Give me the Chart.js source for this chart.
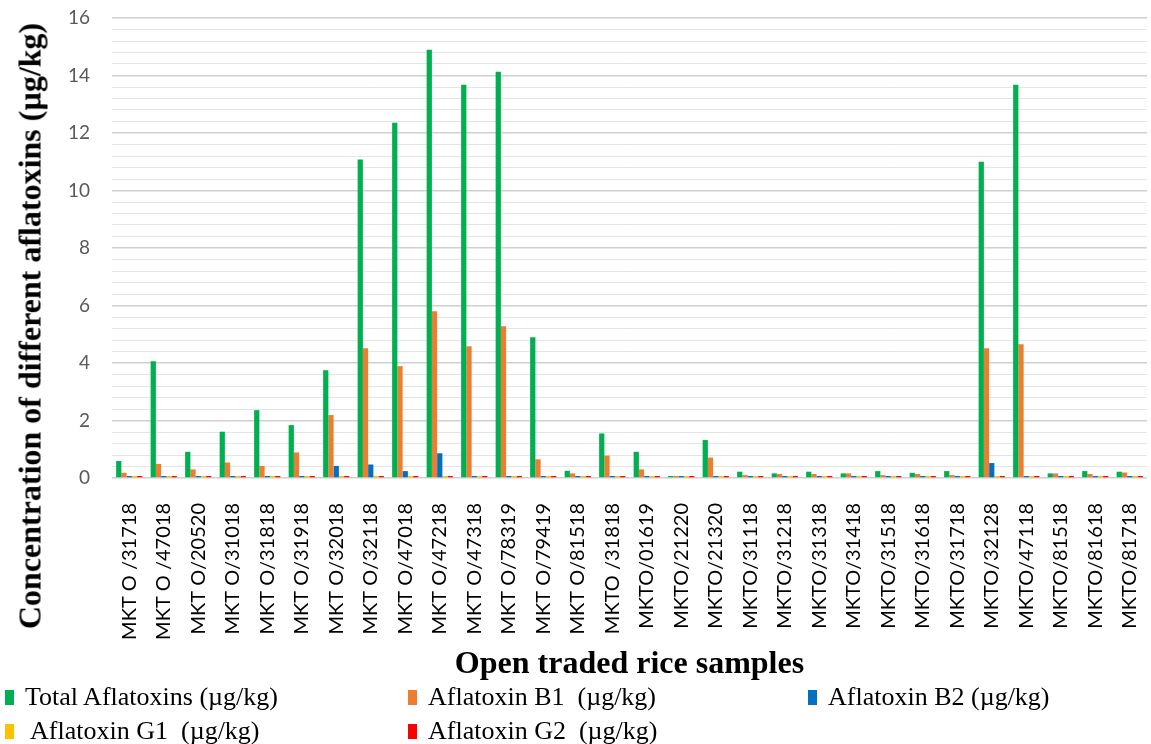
<!DOCTYPE html>
<html>
<head>
<meta charset="utf-8">
<script src="https://cdn.jsdelivr.net/npm/chart.js@4.4.1/dist/chart.umd.min.js"></script>
<style>
  html, body { margin: 0; padding: 0; background: #ffffff; }
  #wrap { position: relative; width: 1151px; height: 744px; overflow: hidden; }
  #c { position: absolute; left: 0; top: 0; }
  #ytitle {
    position: absolute; left: 30px; top: 326px;
    transform: translate(-50%, -50%) rotate(-90deg);
    font: bold 32px "Liberation Serif", "Times New Roman", serif;
    white-space: nowrap; color: #000;
  }
  .leg { position: absolute; display: flex; align-items: center; white-space: pre;
         font: 26px "Liberation Serif", "Times New Roman", serif; color: #000; height: 30px; }
  .leg i { display: inline-block; width: 9px; height: 15px; margin-right: 11px; }
</style>
</head>
<body>
<div id="wrap">
  <canvas id="c" width="1151" height="744"></canvas>
  <div id="ytitle">Concentration of different aflatoxins (µg/kg)</div>
</div>
<script>
const categories = [
  "MKT O /31718","MKT O /47018","MKT O/20520","MKT O/31018","MKT O/31818","MKT O/31918",
  "MKT O/32018","MKT O/32118","MKT O/47018","MKT O/47218","MKT O/47318","MKT O/78319",
  "MKT O/79419","MKT O/81518","MKTO /31818","MKTO/01619","MKTO/21220","MKTO/21320",
  "MKTO/31118","MKTO/31218","MKTO/31318","MKTO/31418","MKTO/31518","MKTO/31618",
  "MKTO/31718","MKTO/32128","MKTO/47118","MKTO/81518","MKTO/81618","MKTO/81718"
];
const totalAflatoxins = [0.59,4.06,0.91,1.61,2.36,1.84,3.75,11.08,12.36,14.9,13.68,14.13,
  4.9,0.25,1.55,0.91,0.07,1.32,0.22,0.16,0.22,0.16,0.24,0.18,0.24,11.0,13.68,0.16,0.24,0.22];
const aflatoxinB1 = [0.18,0.49,0.30,0.54,0.42,0.89,2.19,4.51,3.89,5.8,4.58,5.28,
  0.65,0.16,0.78,0.30,0.07,0.71,0.10,0.14,0.14,0.16,0.10,0.14,0.10,4.51,4.65,0.16,0.14,0.19];
const aflatoxinB2 = [0.07,0.07,0.07,0.07,0.07,0.07,0.42,0.47,0.24,0.86,0.07,0.07,
  0.07,0.07,0.07,0.07,0.07,0.07,0.07,0.07,0.07,0.07,0.07,0.07,0.07,0.52,0.07,0.07,0.07,0.07];
const aflatoxinG1 = [0.07,0.07,0.07,0.07,0.07,0.07,0.07,0.07,0.07,0.07,0.07,0.07,
  0.07,0.07,0.07,0.07,0.07,0.07,0.07,0.07,0.07,0.07,0.07,0.07,0.07,0.07,0.07,0.07,0.07,0.07];
const aflatoxinG2 = [0.07,0.07,0.07,0.07,0.07,0.07,0.07,0.07,0.07,0.07,0.07,0.07,
  0.07,0.07,0.07,0.07,0.07,0.07,0.07,0.07,0.07,0.07,0.07,0.07,0.07,0.07,0.07,0.07,0.07,0.07];
const seriesLabels = ["Total Aflatoxins (µg/kg)","Aflatoxin B1  (µg/kg)","Aflatoxin B2 (µg/kg)",
  " Aflatoxin G1  (µg/kg)","Aflatoxin G2  (µg/kg)"];
const seriesColors = ["#00B050","#ED7D31","#0070C0","#FFC000","#FF0000"];
const yTickLabels = [0,2,4,6,8,10,12,14,16];
const xTitle = "Open traded rice samples";

const seriesValues = [totalAflatoxins, aflatoxinB1, aflatoxinB2, aflatoxinG1, aflatoxinG2];

const isMajor = v => yTickLabels.some(t => Math.abs(t - v) < 1e-6);

const chart = new Chart(document.getElementById('c'), {
  type: 'bar',
  data: {
    labels: categories,
    datasets: seriesValues.map((vals, i) => ({
      label: seriesLabels[i],
      data: vals,
      backgroundColor: seriesColors[i],
      borderWidth: 0,
      categoryPercentage: 0.76,
      barPercentage: 1.0
    }))
  },
  options: {
    responsive: false,
    devicePixelRatio: 1,
    animation: false,
    layout: { padding: { left: 0, right: 4, top: 18, bottom: 56 } },
    plugins: { legend: { display: false }, tooltip: { enabled: false } },
    scales: {
      x: {
        grid: { display: false },
        border: { display: false },
        ticks: {
          autoSkip: false, maxRotation: 90, minRotation: 90, padding: 17,
          color: '#000000',
          font: { family: 'Lato, "Open Sans", sans-serif', size: 20 }
        },
        title: {
          display: true, text: xTitle, color: '#000000',
          padding: { top: 0, bottom: 4 },
          font: { family: '"Liberation Serif", "Times New Roman", serif', size: 32, weight: 'bold', lineHeight: 1.2 }
        },
        afterFit: s => { s.height = 210; s.paddingLeft = 0; s.paddingRight = 0; }
      },
      y: {
        min: 0, max: 16,
        border: { display: false },
        grid: {
          drawTicks: false,
          color: c => isMajor(c.tick.value) ? '#d0d0d0' : '#e4e4e4',
          lineWidth: c => isMajor(c.tick.value) ? 1.5 : 1
        },
        ticks: {
          stepSize: 0.4, autoSkip: false, padding: 22,
          color: '#595959',
          font: { family: 'Lato, "Open Sans", sans-serif', size: 19 },
          callback: v => isMajor(v) ? String(Math.round(v)) : ''
        },
        afterFit: s => { s.width = 112; s.paddingTop = 0; s.paddingBottom = 0; }
      }
    }
  }
});

// HTML legend built from the datasets
const legendPos = [[5, 682], [408, 682], [808, 682], [5, 716], [408, 716]];
const wrap = document.getElementById('wrap');
chart.data.datasets.forEach((ds, i) => {
  const d = document.createElement('div');
  d.className = 'leg';
  d.style.left = legendPos[i][0] + 'px';
  d.style.top = legendPos[i][1] + 'px';
  const m = document.createElement('i');
  m.style.background = ds.backgroundColor;
  d.appendChild(m);
  d.appendChild(document.createTextNode(ds.label));
  wrap.appendChild(d);
});
</script>
</body>
</html>
